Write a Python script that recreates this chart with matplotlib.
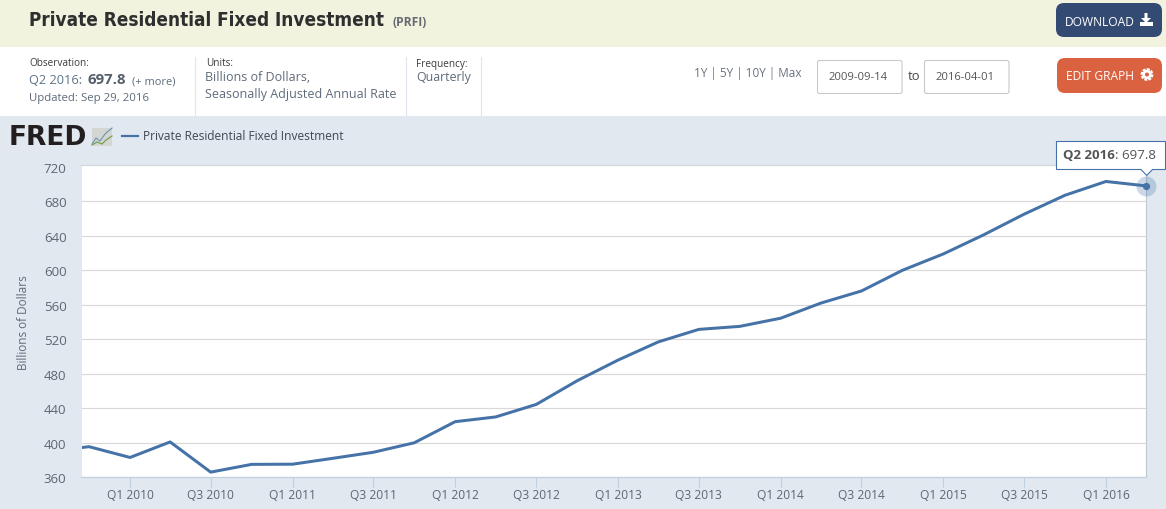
import matplotlib
matplotlib.use("Agg")
import matplotlib.pyplot as plt
import matplotlib.dates as mdates
from matplotlib.patches import Rectangle, FancyBboxPatch, Circle, Polygon
from datetime import date

plt.rcParams['font.family'] = ['Open Sans', 'DejaVu Sans']

W, H = 1166, 510

# data
title = "Private Residential Fixed Investment"
series_name = "Private Residential Fixed Investment"
quarters = ["2009-07-01", "2009-10-01",
            "2010-01-01", "2010-04-01", "2010-07-01", "2010-10-01",
            "2011-01-01", "2011-04-01", "2011-07-01", "2011-10-01",
            "2012-01-01", "2012-04-01", "2012-07-01", "2012-10-01",
            "2013-01-01", "2013-04-01", "2013-07-01", "2013-10-01",
            "2014-01-01", "2014-04-01", "2014-07-01", "2014-10-01",
            "2015-01-01", "2015-04-01", "2015-07-01", "2015-10-01",
            "2016-01-01", "2016-04-01"]
values = [390.0, 395.5,
          383.0, 401.0, 366.0, 375.0,
          375.2, 382.0, 389.0, 400.0,
          424.5, 430.0, 444.5, 472.0,
          496.0, 517.0, 531.5, 535.0,
          544.5, 562.0, 576.0, 600.0,
          619.0, 641.0, 665.0, 687.0,
          703.0, 697.8]
y_ticks = [360, 400, 440, 480, 520, 560, 600, 640, 680, 720]
x_tick_dates = ["2010-01-01", "2010-07-01", "2011-01-01", "2011-07-01",
                "2012-01-01", "2012-07-01", "2013-01-01", "2013-07-01",
                "2014-01-01", "2014-07-01", "2015-01-01", "2015-07-01",
                "2016-01-01"]
x_tick_labels = ["Q1 2010", "Q3 2010", "Q1 2011", "Q3 2011",
                 "Q1 2012", "Q3 2012", "Q1 2013", "Q3 2013",
                 "Q1 2014", "Q3 2014", "Q1 2015", "Q3 2015",
                 "Q1 2016"]
x_start, x_end = "2009-09-14", "2016-04-01"

def dn(s):
    return mdates.date2num(date.fromisoformat(s))

fig = plt.figure(figsize=(W / 100, H / 100), dpi=100, facecolor="white")

# page chrome in pixel coordinates
bg = fig.add_axes([0, 0, 1, 1], zorder=0)
bg.set_xlim(0, W); bg.set_ylim(H, 0); bg.axis("off")

bg.add_patch(Rectangle((0, 0), W, 48, fc="#f2f3df", ec="none"))
bg.add_patch(Rectangle((0, 117), W, H - 117, fc="#e1e8f0", ec="none"))

def px(s):
    return s * 0.72

def txt(x, y, s, size, color="#5f6b7a", weight="normal", ha="left", family=None, ax=bg, **kw):
    return ax.text(x, y + 1, s, fontsize=px(size), color=color, fontweight=weight, ha=ha,
                   va="center", family=family or ['Open Sans', 'DejaVu Sans'], **kw)

txt(29, 20, title, 18.9, color="#2f2f2f", weight="bold", family=['DejaVu Sans'], stretch="condensed")
txt(392.5, 22, "(PRFI)", 12, color="#666a70", weight="bold")

# buttons
def button(x, y, w, h, color):
    bg.add_patch(FancyBboxPatch((x + 8, y + 8), w - 16, h - 16,
                                boxstyle="round,pad=8,rounding_size=8", fc=color, ec="none"))

button(1056, 4, 106, 34, "#334b73")
txt(1065, 21, "DOWNLOAD", 12, color="white")
bg.add_patch(Polygon([[1144.5, 14], [1147.5, 14], [1147.5, 19], [1151, 19], [1146, 24], [1141, 19], [1144.5, 19]],
                     fc="white", ec="none"))
bg.add_patch(Rectangle((1139.5, 23), 13.5, 3.5, fc="white", ec="none"))
button(1057, 59, 105, 35, "#da6240")
txt(1066, 75, "EDIT GRAPH", 12, color="white")
bg.add_patch(Circle((1147, 75.5), 5.0, fc="#da6240", ec="white", lw=2, ls=(0, (1.0, 0.4))))
bg.add_patch(Circle((1147, 75.5), 4.6, fc="white", ec="none"))
bg.add_patch(Circle((1147, 75.5), 2.0, fc="#da6240", ec="none"))

# info block
txt(29, 63, "Observation:", 10, color="#3c3c3c")
txt(29, 80, "Q2 2016:", 12.8, color="#5f7387")
txt(87, 79.5, "697.8", 15, color="#555f6b", weight="bold")
txt(132, 80.5, "(+ more)", 11, color="#5f6b7a")
txt(29, 97, "Updated: Sep 29, 2016", 11.4, color="#5f6b7a")
txt(206, 63, "Units:", 10, color="#3c3c3c")
txt(205, 76.5, "Billions of Dollars,", 12.5, color="#5f6b7a")
txt(205, 93.5, "Seasonally Adjusted Annual Rate", 12.5, color="#5f6b7a")
txt(416, 63, "Frequency:", 10, color="#3c3c3c")
txt(416, 76.5, "Quarterly", 12.4, color="#5f6b7a")
for xv in (194.5, 405.5, 480.5):
    bg.plot([xv, xv], [58, 117], color="#dfe6ee", lw=0.8)

txt(694, 73, "1Y | 5Y | 10Y | Max", 11.7, color="#6a7280")
for x0 in (817.5, 924.5):
    bg.add_patch(FancyBboxPatch((x0 + 2, 63.5), 80.5, 29, boxstyle="round,pad=2,rounding_size=2",
                                fc="white", ec="#c9c9c9", lw=0.8))
txt(828.5, 77, x_start, 11.3, color="#555555")
txt(935.5, 77, x_end, 11.3, color="#555555")
txt(908, 76, "to", 13, color="#444444")

# FRED logo and legend
txt(8.5, 137, "FRED", 26.5, color="#231f20", weight="bold", family=['DejaVu Sans'])
bg.add_patch(FancyBboxPatch((93, 130), 18, 16, boxstyle="round,pad=1,rounding_size=2", fc="#d3d6d3", ec="none"))
bg.plot([92, 96, 100, 105, 112], [145, 139, 142, 135, 129], color="#6c93ad", lw=0.8)
bg.plot([92, 97, 102, 106, 112], [146, 143, 145, 141, 137], color="#6f9a45", lw=0.8)
bg.plot([122, 138], [137, 137], color="#4572a7", lw=1.6)
txt(143, 136, series_name, 12.05, color="#3f4853")

# chart axes: x from 81.5 to 1146.5, y from 166.3 (top) to 478.3 (360), 34.5 px per 40
PX_PER_UNIT = 34.5 / 40
top_px, bottom_px = 166.3, 478.3
ax = fig.add_axes([81.5 / W, 1 - bottom_px / H, (1146.5 - 81.5) / W, (bottom_px - top_px) / H], zorder=1)
ax.set_facecolor("white")
ax.set_xlim(dn(x_start), dn(x_end))
ax.set_ylim(360, 360 + (bottom_px - top_px) / PX_PER_UNIT)
for s in ("right", "left"):
    ax.spines[s].set_visible(False)
ax.spines["top"].set_color("#d4d8dc")
ax.spines["top"].set_linewidth(0.9)
ax.spines["bottom"].set_color("#c0d0e0")
ax.spines["bottom"].set_linewidth(0.9)
ax.set_yticks(y_ticks)
ax.set_xticks([dn(d) for d in x_tick_dates])
ax.set_xticklabels(x_tick_labels)
ax.tick_params(axis="y", length=0, pad=10.8, labelsize=px(13.2), labelcolor="#5f6670")
ax.tick_params(axis="x", length=7.2, width=0.8, color="#c0d0e0", pad=0.3, labelsize=px(12), labelcolor="#5f6670")
ax.grid(axis="y", color="#d8d8d8", lw=0.8)
ax.yaxis.get_gridlines()[-1].set_visible(False)
ax.set_axisbelow(True)
ax.set_ylabel("Billions of Dollars", fontsize=px(11.7), color="#5f6b7a", labelpad=9.7)

xs = [dn(q) for q in quarters]
ax.plot(xs, values, color="#4572a7", lw=2.16, solid_joinstyle="round", zorder=3)

# last-point marker and crosshair
ax.axvline(xs[-1], color="#c0c8d0", lw=0.8, zorder=2, clip_on=False)
ax.plot(xs[-1], values[-1], "o", ms=14.4, color="#4572a7", alpha=0.27, mec="none", clip_on=False, zorder=4)
ax.plot(xs[-1], values[-1], "o", ms=5.2, color="#4572a7", mec="none", clip_on=False, zorder=5)

# tooltip on top
top = fig.add_axes([0, 0, 1, 1], zorder=2)
top.set_xlim(0, W); top.set_ylim(H, 0); top.axis("off"); top.patch.set_alpha(0)
top.add_patch(Polygon([[1056.5, 142.5], [1165.5, 142.5], [1165.5, 170.5], [1152.5, 170.5], [1146.7, 176.5],
                       [1141, 170.5], [1056.5, 170.5]],
                      fc="white", ec="#4572a7", lw=0.8))
txt(1062.7, 154.5, "Q2 2016", 13.2, color="#555555", weight="bold", ax=top)
txt(1115, 154.5, ": 697.8", 13.2, color="#555555", ax=top)

fig.savefig("out.png", dpi=100, facecolor="white")
